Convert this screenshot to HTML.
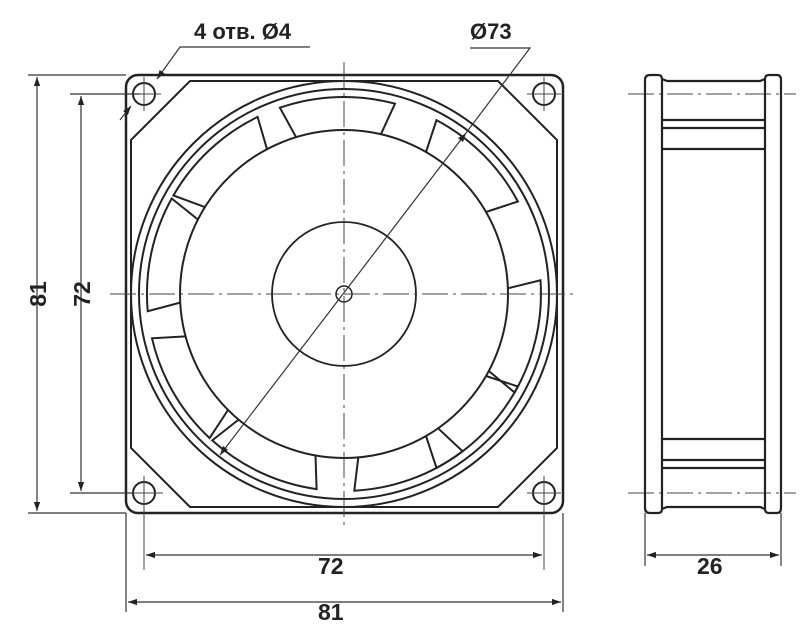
<!DOCTYPE html>
<html><head><meta charset="utf-8"><style>
html,body{margin:0;padding:0;background:#fff;width:800px;height:624px;overflow:hidden}
text{font-family:"Liberation Sans",sans-serif;font-weight:bold;fill:#222}
</style></head><body>
<svg id="s" width="800" height="624" viewBox="0 0 800 624" xmlns="http://www.w3.org/2000/svg">
<defs>
<marker id="a" viewBox="0 0 10 10" refX="10" refY="5" markerWidth="9" markerHeight="9" orient="auto-start-reverse" markerUnits="userSpaceOnUse"><path d="M0,1.5 L10,5 L0,8.5z" fill="#222"/></marker>
</defs>
<g fill="none" stroke="#222">
<rect x="126" y="75" width="437" height="438" rx="12" stroke-width="2.5"/>
<path d="M131,140 L190,81 L498,81 L557,140 L557,448 L498,507 L190,507 L131,448 Z" stroke-width="2"/>
<circle cx="144" cy="94" r="11" stroke-width="2"/>
<circle cx="544" cy="94" r="11" stroke-width="2"/>
<circle cx="144" cy="493" r="11" stroke-width="2"/>
<circle cx="544" cy="493" r="11" stroke-width="2"/>
<circle cx="344" cy="294" r="213" stroke-width="2"/>
<circle cx="344" cy="294" r="205" stroke-width="2"/>
<circle cx="344" cy="294" r="164" stroke-width="2"/>
<circle cx="344" cy="294" r="72" stroke-width="1.8"/>
<circle cx="344" cy="294" r="8" stroke-width="1.5"/>
<g id="bl" stroke-width="2"></g>
<g stroke-width="1" stroke-dasharray="26,5,3,5" stroke="#444">
<line x1="344" y1="62" x2="344" y2="528"/>
<line x1="110" y1="294" x2="578" y2="294"/>
<line x1="628" y1="94" x2="796" y2="94"/>
<line x1="628" y1="493" x2="796" y2="493"/>
</g>
<g stroke-width="1" stroke="#444">
<line x1="127" y1="94" x2="161" y2="94"/><line x1="144" y1="77" x2="144" y2="111"/>
<line x1="527" y1="94" x2="561" y2="94"/><line x1="544" y1="77" x2="544" y2="111"/>
<line x1="110" y1="493" x2="163" y2="493"/><line x1="144" y1="476" x2="144" y2="570"/>
<line x1="527" y1="493" x2="561" y2="493"/><line x1="544" y1="476" x2="544" y2="570"/>
</g>
<g stroke-width="2.2">
<path d="M645,80 Q645,75 650,75 L658,75 Q662,75 662,79 L662,509 Q662,513 658,513 L650,513 Q645,513 645,508 Z"/>
<path d="M765,79 Q765,75 769,75 L777,75 Q781,75 781,80 L781,508 Q781,513 777,513 L769,513 Q765,513 765,509 Z"/>
<path d="M662,79 L667,81 L760,81 L765,79"/>
<path d="M662,509 L667,507 L760,507 L765,509"/>
<line x1="662" y1="120" x2="765" y2="120"/><line x1="662" y1="128" x2="765" y2="128"/><line x1="662" y1="149" x2="765" y2="149"/>
<line x1="662" y1="439" x2="765" y2="439"/><line x1="662" y1="460" x2="765" y2="460"/><line x1="662" y1="468" x2="765" y2="468"/>
</g>
<g stroke-width="1.2" stroke="#333">
<line x1="28" y1="75" x2="126" y2="75"/><line x1="28" y1="513" x2="126" y2="513"/>
<line x1="70" y1="94" x2="140" y2="94"/><line x1="70" y1="493" x2="132" y2="493"/>
<line x1="37" y1="77" x2="37" y2="511" marker-start="url(#a)" marker-end="url(#a)"/>
<line x1="81" y1="96" x2="81" y2="491" marker-start="url(#a)" marker-end="url(#a)"/>
<line x1="126" y1="513" x2="126" y2="612"/><line x1="563" y1="513" x2="563" y2="612"/>
<line x1="146" y1="555" x2="542" y2="555" marker-start="url(#a)" marker-end="url(#a)"/>
<line x1="128" y1="602" x2="561" y2="602" marker-start="url(#a)" marker-end="url(#a)"/>
<line x1="645" y1="513" x2="645" y2="566"/><line x1="781" y1="513" x2="781" y2="566"/>
<line x1="647" y1="555" x2="779" y2="555" marker-start="url(#a)" marker-end="url(#a)"/>
<line x1="220" y1="455" x2="466" y2="133" marker-start="url(#a)" marker-end="url(#a)"/>
<polyline points="466,133 530,48 470,48"/>
<polyline points="310,47 180,47 157,79" marker-end="url(#a)"/>
<line x1="120" y1="120" x2="131" y2="106" marker-end="url(#a)"/>
</g>
</g>
<text x="194" y="39" font-size="22">4 отв. Ø4</text>
<text x="470" y="39" font-size="22">Ø73</text>
<text x="318" y="574" font-size="23">72</text>
<text x="318" y="620" font-size="23">81</text>
<text x="697" y="574" font-size="23">26</text>
<text transform="translate(46,294) rotate(-90)" text-anchor="middle" font-size="23">81</text>
<text transform="translate(90,294) rotate(-90)" text-anchor="middle" font-size="23">72</text>
<script>
var g=document.getElementById('bl'),cx=344,cy=294,r1=164,r2=197;
[-92,-45,13,45,70,115,150,192,227].forEach(function(a){
 var w=15,p=function(r,d){var t=(a+d)*Math.PI/180;return (cx+r*Math.cos(t)).toFixed(1)+','+(cy+r*Math.sin(t)).toFixed(1);};
 var e=document.createElementNS('http://www.w3.org/2000/svg','path');
 e.setAttribute('d','M'+p(r1,-w)+' L'+p(r2,-w-2)+' A'+r2+','+r2+' 0 0 1 '+p(r2,w+2)+' L'+p(r1,w));
 g.appendChild(e);
});
</script>
</svg>
</body></html>
